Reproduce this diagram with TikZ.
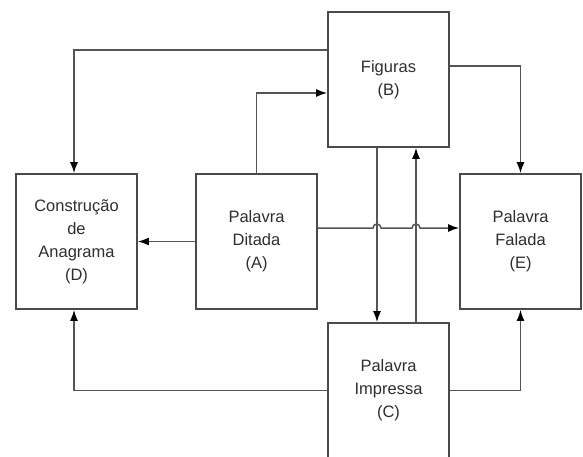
\documentclass[tikz,border=0pt]{standalone}
\usepackage{fontspec}
\setmainfont{Liberation Sans}
\usepackage{tikz}
\usetikzlibrary{arrows.meta,calc}

\definecolor{linegray}{HTML}{555555}
\definecolor{boxgray}{HTML}{4A4A4A}
\definecolor{textgray}{HTML}{2E2E2E}

\begin{document}
\begin{tikzpicture}[x=1pt,y=-1pt,>={Latex[length=11pt,width=8pt,color=black]},
  bloco/.style={draw=boxgray,line width=1.7pt,minimum width=121pt,minimum height=135pt,
    inner sep=0pt,align=center,text=textgray,font=\fontsize{16.5}{23}\selectfont},
  liga/.style={linegray,line width=1.5pt}]
  \useasboundingbox (0,0) rectangle (583,456);
  \clip (0,0) rectangle (583,456);
  % blocos
  \node[bloco] (B) at (388.5,79.5) {Figuras\\(B)};
  \node[bloco] (D) at (76.5,241.5) {Construção\\de\\Anagrama\\(D)};
  \node[bloco] (A) at (256.5,241.5) {Palavra\\Ditada\\(A)};
  \node[bloco] (E) at (520.5,241.5) {Palavra\\Falada\\(E)};
  \node[bloco] (C) at (388.5,390.5) {Palavra\\Impressa\\(C)};
  % ligacoes a partir de B
  \draw[liga,->] ([yshift=29.5pt]B.west) -| ([xshift=-2.5pt]D.north);
  \draw[liga,->] ([yshift=13.5pt]B.east) -| (E.north);
  \draw[liga,->] ([xshift=-11.5pt]B.south) -- ([xshift=-11.5pt]C.north);
  \draw[liga,->] ([xshift=27.5pt]C.north) -- ([xshift=27.5pt]B.south);
  % ligacoes a partir de A
  \draw[liga,->] (A.north) |- ([yshift=-13.5pt]B.west);
  \draw[liga,->] (A.west) -- (D.east);
  \draw[liga,->] ([yshift=13.5pt]A.east) -- (373,228) arc[start angle=180,end angle=0,radius=4pt]
    -- (412,228) arc[start angle=180,end angle=0,radius=4pt] -- ([yshift=13.5pt]E.west);
  % ligacoes a partir de C
  \draw[liga,->] (C.west) -| ([xshift=-2.5pt]D.south);
  \draw[liga,->] (C.east) -| (E.south);
\end{tikzpicture}
\end{document}
